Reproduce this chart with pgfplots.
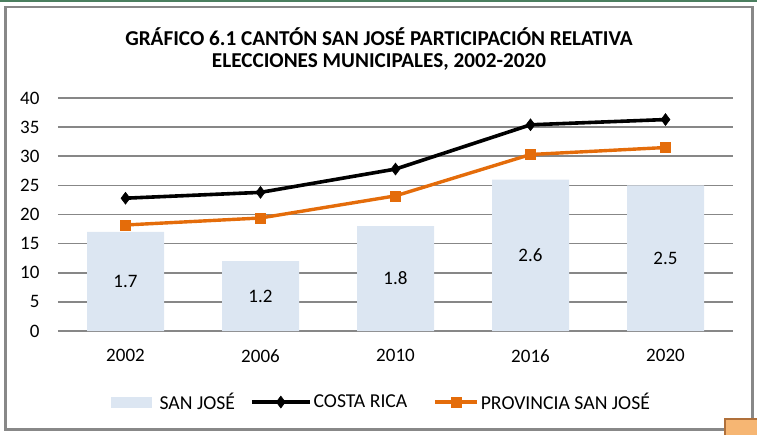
\documentclass[border=0pt]{standalone}
\usepackage{pgfplots}
\pgfplotsset{compat=1.18}
\usepackage{fontspec}
\setmainfont{Carlito}

\definecolor{barfill}{HTML}{DCE6F2}
\definecolor{provorange}{HTML}{E46C0A}
\definecolor{gridgray}{HTML}{878787}
\definecolor{framegray}{HTML}{888888}
\definecolor{topgreen}{HTML}{4B7F5F}
\definecolor{tabfill}{HTML}{F6B673}
\definecolor{tabedge}{HTML}{B0703A}

\newcommand{\chartfont}{\fontsize{19}{22}\selectfont}
\newcommand{\legendfont}{\fontsize{19.7}{23}\selectfont}
\newcommand{\titlefont}{\fontsize{21.2}{24}\selectfont}
\newcommand{\legendgap}[1]{\rule{#1}{0pt}}

\pgfplotsset{
  base/.style={
    at={(58pt,-331pt)}, anchor=south west, scale only axis,
    width=675pt, height=233pt,
    xmin=-0.5, xmax=4.5, ymin=0, clip=false,
  },
  barleg/.style={legend image code/.code={\fill[barfill] (0pt,-5pt) rectangle (40pt,5pt); \path (46pt,0pt);}},
  longleg/.style={legend image code/.code={\draw[mark repeat=2,mark phase=2,##1] plot coordinates {(0pt,0pt) (29pt,0pt) (58pt,0pt)};}},
  shortleg/.style={legend image code/.code={\draw[mark repeat=2,mark phase=2,##1] plot coordinates {(0pt,0pt) (21pt,0pt) (42pt,0pt)};}},
}

\begin{document}
\begin{tikzpicture}[x=1pt,y=-1pt]
\useasboundingbox (0,0) rectangle (757,435);

% page rule and chart frame
\fill[topgreen] (0,0) rectangle (757,2.5);
\draw[framegray, line width=2.2pt] (5.5,7) rectangle (752.5,429.5);
\fill[tabfill] (725,419) rectangle (757,435);
\draw[tabedge, line width=1.5pt] (725,435) -- (725,419) -- (757,419);

% title
\node[font=\bfseries\titlefont] at (379,37) {GRÁFICO 6.1 CANTÓN SAN JOSÉ PARTICIPACIÓN RELATIVA};
\node[font=\bfseries\titlefont] at (379,62) {ELECCIONES MUNICIPALES, 2002-2020};

% primary axis: grid, ticks, category labels
\begin{axis}[base, ymax=40,
  ytick={0,5,...,40},
  xtick={0,1,2,3,4},
  xticklabels={2002,2006,2010,2016,2020},
  ymajorgrids,
  major grid style={gridgray, line width=1.7pt},
  axis line style={draw=none},
  major tick length=0pt,
  tick label style={font=\chartfont},
  /pgf/number format/assume math mode=true,
  yticklabel style={xshift=-15pt},
  xticklabel style={yshift=-15pt},
]
\addplot[draw=none] coordinates {(0,0)};
\end{axis}

% secondary axis (0-4): San José canton bars
\begin{axis}[base, ymax=4, hide axis,
  /pgf/number format/assume math mode=true,
]
\addplot[ybar, bar width=77pt, fill=barfill, draw=none,
  visualization depends on=y \as \rawy,
  nodes near coords={\pgfmathprintnumber[fixed,precision=1,fixed zerofill]{\pgfplotspointmeta}},
  nodes near coords style={font=\chartfont, text=black, anchor=center,
    shift={(axis direction cs:0,{-\rawy/2})}},
] coordinates {(0,1.7) (1,1.2) (2,1.8) (3,2.6) (4,2.5)};
\end{axis}

% lines: Costa Rica and Provincia San José
\begin{axis}[base, ymax=40, hide axis,
  legend style={at={(0.074,-0.305)}, anchor=west, draw=none, fill=none,
    legend columns=-1, font=\legendfont,
    nodes={inner sep=2pt},
    /tikz/every even column/.append style={column sep=0pt},
    /tikz/every odd column/.append style={column sep=0pt}},
  legend cell align=left,
]
\addlegendimage{barleg}
\addlegendentry{SAN JOSÉ\legendgap{13pt}}
\addplot[black, line width=3.6pt, mark=diamond*, mark size=6pt,
  mark options={line width=0.5pt}, longleg]
  coordinates {(0,22.8) (1,23.8) (2,27.8) (3,35.4) (4,36.3)};
\addlegendentry{COSTA RICA\legendgap{24pt}}
\addplot[provorange, line width=3.4pt, mark=square*, mark size=5pt,
  mark options={line width=0.5pt}, shortleg]
  coordinates {(0,18.2) (1,19.4) (2,23.2) (3,30.3) (4,31.5)};
\addlegendentry{PROVINCIA SAN JOSÉ}
\end{axis}
\end{tikzpicture}
\end{document}
